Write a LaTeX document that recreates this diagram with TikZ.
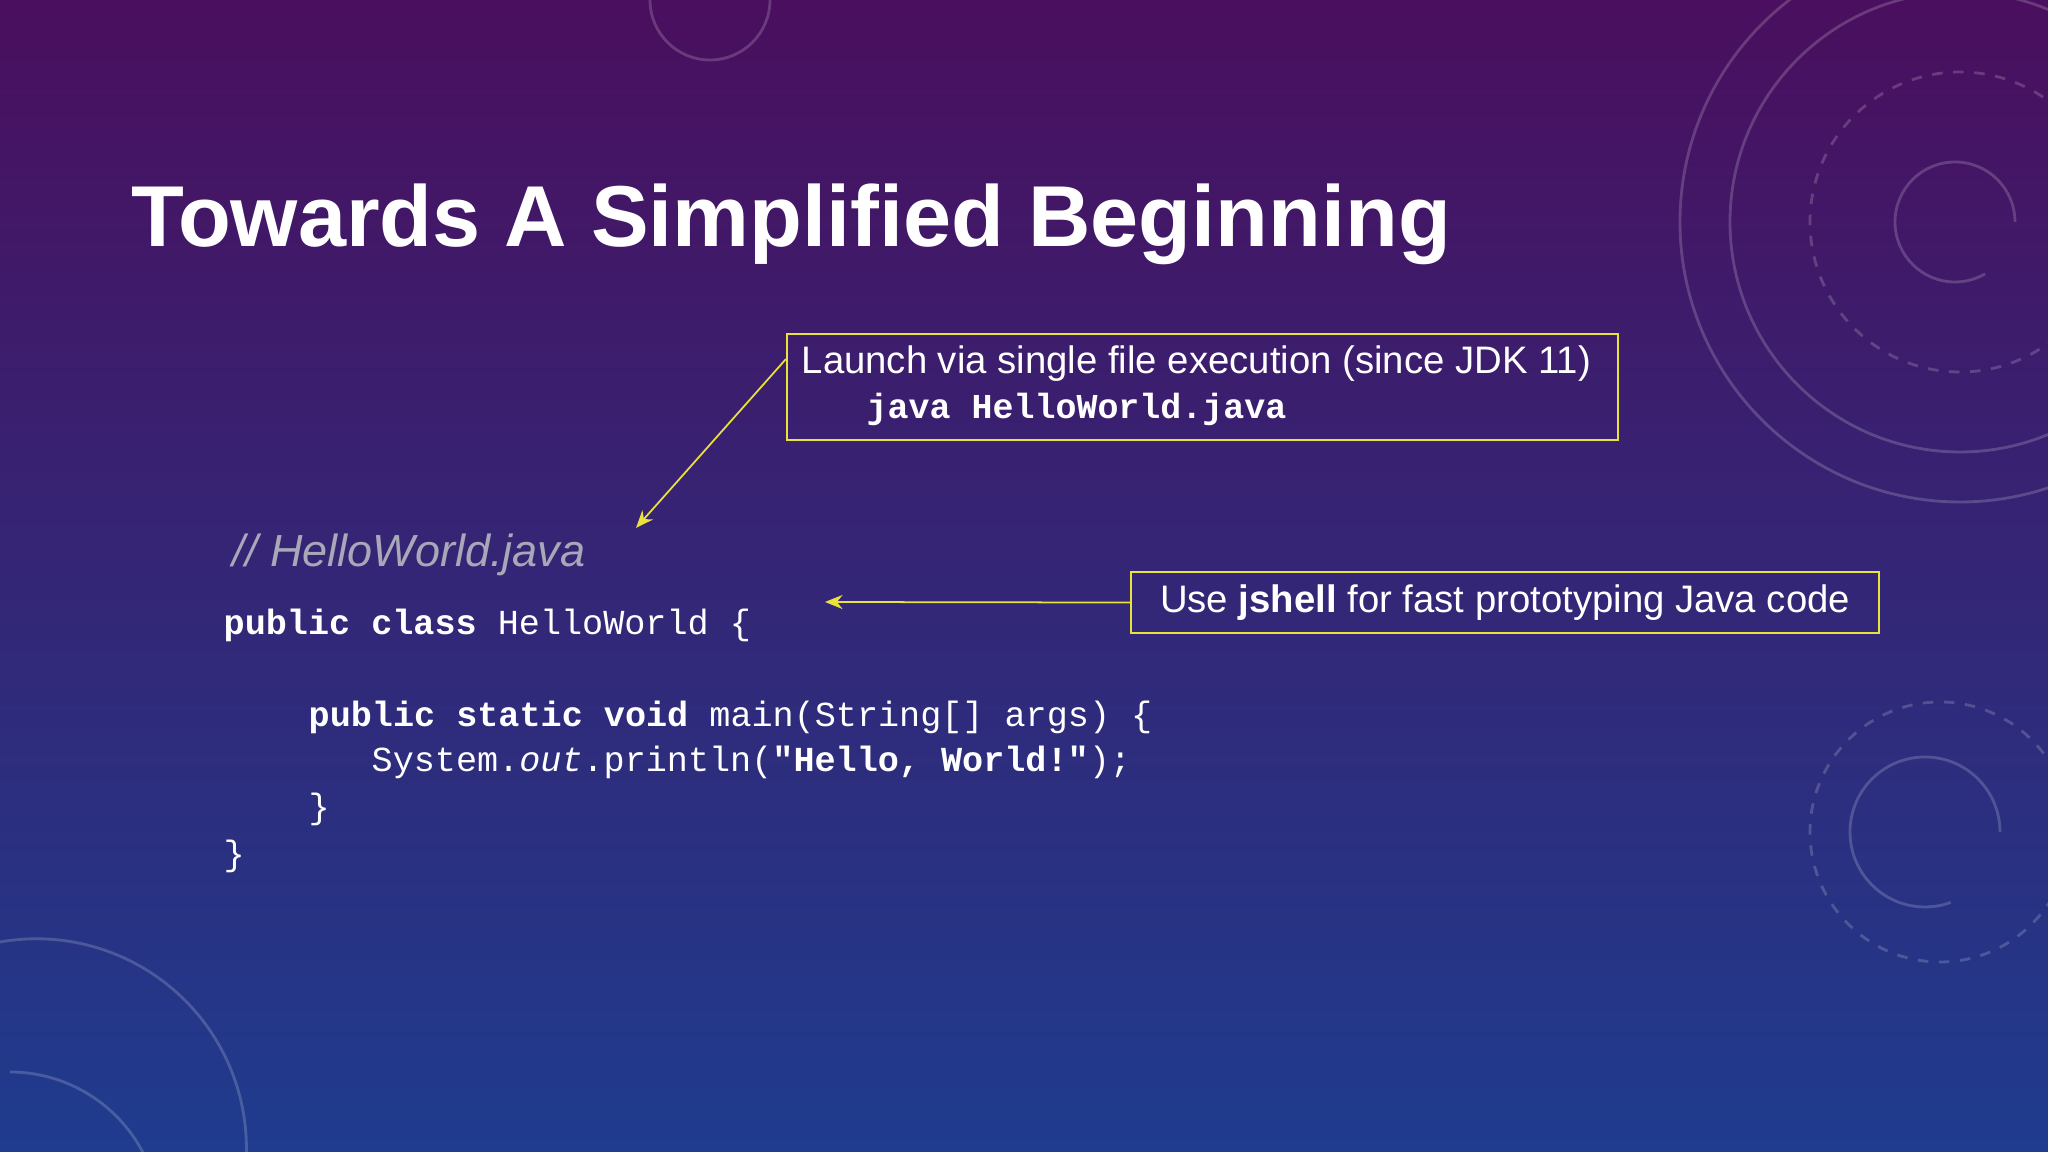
\documentclass[tikz,border=0pt]{standalone}
\usepackage{fontspec}
\setmainfont{Liberation Sans}
\setmonofont{Liberation Mono}
\usetikzlibrary{positioning,arrows.meta}
\definecolor{bgtop}{HTML}{4A0F5E}
\definecolor{bgbot}{HTML}{1F3C8E}
\definecolor{noteline}{HTML}{E8E23A}
\definecolor{commentgray}{HTML}{A8A8B8}
\tikzset{
  notebox/.style={draw=noteline, line width=0.6pt, inner sep=0pt, anchor=north west},
  notearrow/.style={draw=noteline, line width=0.5pt, -{Stealth[length=5pt,width=4pt]}},
  codeline/.style={anchor=base west, inner sep=0pt, text=white, font=\ttfamily\fontsize{10}{12}\selectfont},
  deco/.style={draw=white, opacity=0.18, line width=0.8pt}
}
\begin{document}
\begin{tikzpicture}
  \useasboundingbox (0,0) rectangle (20.48,11.52);
  \shade[top color=bgtop, bottom color=bgbot] (0,0) rectangle (20.48,11.52);
  % decorations
  \draw[deco] (19.6,9.3) circle (2.8);
  \draw[deco] (19.6,9.3) circle (2.3);
  \draw[deco, dashed] (19.6,9.3) circle (1.5);
  \draw[deco] (20.15,9.3) arc (0:300:0.6);
  \draw[deco, dashed] (19.4,3.2) circle (1.3);
  \draw[deco] (20.0,3.2) arc (0:290:0.75);
  \draw[deco] (0.1,0.8) arc (90:-10:1.5);
  \draw[deco] (0,2.1) arc (100:-5:2.1);
  \draw[deco] (7.7,11.52) arc (0:-180:0.6);
  % title
  \node[anchor=base west, inner sep=0pt, text=white, font=\bfseries\fontsize{24.6}{28}\selectfont] (title) at (1.31,9.05) {Towards A Simplified Beginning};
  % notes
  \node[notebox, minimum width=8.31cm, minimum height=1.06cm] (launch) at (7.86,8.19) {};
  \node[anchor=base west, inner sep=0pt, text=white, font=\fontsize{10.9}{13}\selectfont] (launchtxt) at (8.01,7.78) {Launch via single file execution (since JDK 11)};
  \node[anchor=base west, inner sep=0pt, text=white, font=\ttfamily\bfseries\fontsize{9.95}{12}\selectfont] (launchcmd) at (8.66,7.33) {java HelloWorld.java};
  \node[notebox, minimum width=7.48cm, minimum height=0.61cm] (jshell) at (11.30,5.81) {};
  \node[anchor=center, inner sep=0pt, text=white, font=\fontsize{10.9}{13}\selectfont] (jshelltxt) at (jshell.center) {Use \textbf{jshell} for fast prototyping Java code};
  \coordinate (launchend) at (6.36,6.24);
  \coordinate (jshellend) at (8.25,5.50);
  \draw[notearrow] (launch.west |- 0,7.93) -- (launchend);
  \draw[notearrow] (jshell.west) -- (jshellend);
  % code
  \node[anchor=base west, inner sep=0pt, text=commentgray, font=\itshape\fontsize{12.8}{15}\selectfont] (comment) at (2.32,5.85) {// HelloWorld.java};
  \node[codeline] (l1) at (2.23,5.17) {\textbf{public class} HelloWorld \{};
  \node[codeline] (l2) at (3.08,4.25) {\textbf{public static void} main(String[] args) \{};
  \node[codeline] (l3) at (3.71,3.80) {System.\textit{out}.println(\textbf{"Hello, World!"});};
  \node[codeline] (l4) at (3.08,3.33) {\}};
  \node[codeline] (l5) at (2.23,2.86) {\}};
\end{tikzpicture}
\end{document}
